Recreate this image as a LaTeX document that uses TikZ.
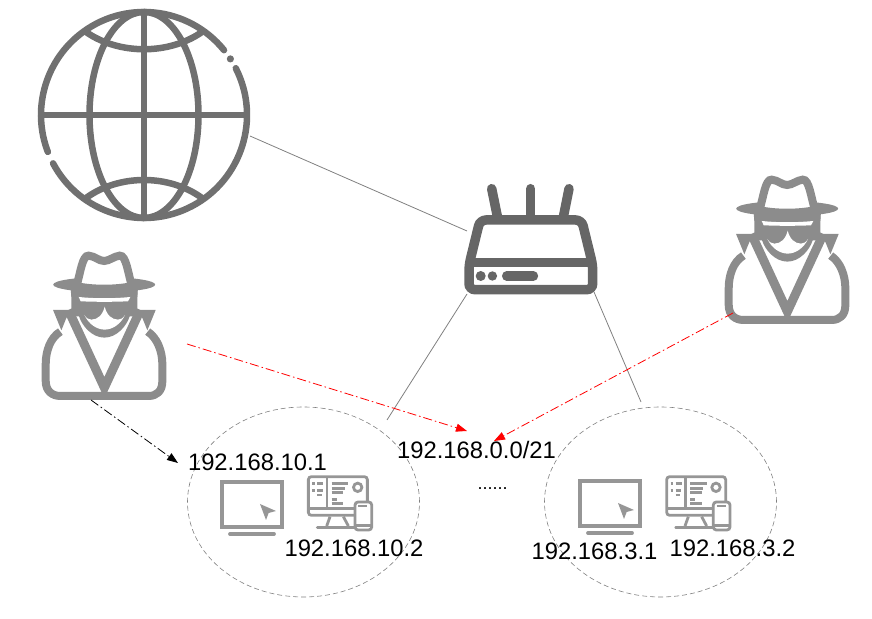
\documentclass[tikz,border=0pt]{standalone}
\usepackage{fontspec}
\setmainfont{Liberation Sans}
\usetikzlibrary{arrows.meta,shapes.geometric}
\definecolor{globegray}{HTML}{707070}
\definecolor{routergray}{HTML}{666666}
\definecolor{spygray}{HTML}{8C8C8C}
\definecolor{pcgray}{HTML}{969696}
\tikzset{
  link/.style={draw=gray,line width=0.8pt},
  attack/.style={red,line width=0.8pt,dash pattern=on 9pt off 3pt on 1.5pt off 3pt,-{Triangle[length=11pt,width=8pt]}},
  probe/.style={attack,black},
  subnet/.style={draw=gray,ellipse,dash pattern=on 5pt off 3pt,line width=0.6pt,minimum width=232pt,minimum height=190pt,inner sep=0pt},
  addr/.style={anchor=base,inner sep=0pt,font=\fontsize{23.8pt}{24pt}\selectfont},
  globe/.pic={
    \begin{scope}[globegray,line width=6.5pt]
      \draw[line cap=round] (39:103pt) arc[start angle=39,end angle=201,radius=103pt];
      \draw[line cap=round] (208:103pt) arc[start angle=208,end angle=387,radius=103pt];
      \fill (33:103pt) circle (3.6pt);
      \draw (0,103) -- (0,-103);
      \draw (-103,0) -- (103,0);
      \draw (0,0) ellipse (54.5pt and 103pt);
      \draw (-58,83) .. controls (-25,60) and (25,60) .. (58,83);
      \draw (-58,-83) .. controls (-25,-59) and (25,-59) .. (58,-83);
    \end{scope}
  },
  router/.pic={
    \begin{scope}[routergray,line width=9.5pt]
      \draw[rounded corners=6pt] (-50.7,26.7) -- (51,26.7) -- (62,-18.3) -- (62,-43) -- (-61.7,-43) -- (-61.7,-18.3) -- cycle;
      \draw (-61.7,-16) -- (62,-16);
      \draw[line cap=round] (-39,58) -- (-33.3,30);
      \draw[line cap=round] (0,58) -- (0,30);
      \draw[line cap=round] (38.3,58) -- (32.7,30);
      \fill (-50,-29.3) circle (5pt) (-38.3,-29.3) circle (4.7pt);
      \draw[line cap=round] (-24,-29.3) -- (2.7,-29.3);
    \end{scope}
  },
  spy/.pic={
    \begin{scope}[x=0.3333pt,y=-0.3333pt,shift={(-230,-250)},spygray,line width=8pt]
      % coat
      \draw[fill=white,line join=round] (100,272) .. controls (70,290) and (56,330) .. (56,370) -- (56,420) .. controls (56,450) and (75,465) .. (100,465) -- (365,465) .. controls (390,465) and (406,450) .. (406,420) -- (406,370) .. controls (406,330) and (390,290) .. (362,272);
      % collar
      \fill (78,207) -- (135,207) -- (118,231) -- (103,268) -- cycle;
      \fill (386,207) -- (329,207) -- (346,231) -- (361,268) -- cycle;
      \draw[line width=9pt,miter limit=10] (124,207) -- (232,440) -- (340,207);
      % face
      \fill (133,150) -- (133,205) -- (140,226) -- (156,226) .. controls (165,255) and (195,290) .. (232,290) .. controls (269,290) and (299,255) .. (308,226) -- (324,226) -- (331,205) -- (331,150) -- cycle;
      \fill[white] (172,222) .. controls (178,232) and (185,236) .. (193,236) .. controls (212,236) and (227,222) .. (233,197) .. controls (239,222) and (254,236) .. (273,236) .. controls (281,236) and (288,232) .. (294,222) .. controls (281,250) and (256,266) .. (233,266) .. controls (210,266) and (185,250) .. (172,222) -- cycle;
      % hat
      \fill (231.5,131) ellipse (51pt and 7.5pt);
      \draw[fill=white] (148,135) .. controls (160,100) and (165,42) .. (185,44) .. controls (205,46) and (215,60) .. (231,60) .. controls (247,60) and (260,46) .. (278,44) .. controls (298,42) and (303,100) .. (315,135) .. controls (270,146) and (192,146) .. (148,135) -- cycle;
      \fill (130,135) .. controls (180,150) and (282,150) .. (333,135) -- (331,168) -- (133,168) -- cycle;
      \fill[white] (155,168) .. controls (200,173) and (262,173) .. (310,168) -- (303,181) .. controls (260,183) and (204,183) .. (161,181) -- cycle;
    \end{scope}
  },
  screen/.pic={
    \begin{scope}[x=0.3333pt,y=-0.3333pt,shift={(-120,-120)},pcgray,line width=3.8pt]
      \draw (125,125) rectangle (305,260);
      \draw[line cap=round] (150,282) -- (282,282);
      \fill (240,192) -- (288,213) -- (266,219) -- (258,240) -- cycle;
    \end{scope}
  },
  desktop/.pic={
    \begin{scope}[x=0.3333pt,y=-0.3333pt,shift={(-380,-105)},pcgray,line width=2.8pt]
      \draw[rounded corners=3pt] (385,110) rectangle (562,226);
      \draw (385,205) -- (525,205);
      \draw (441,110) -- (441,205);
      \draw (450,230) -- (440,258) (490,230) -- (505,258);
      \draw[line cap=round] (412,262) -- (525,262);
      \draw (397,130) -- (405,130) (412,130) -- (430,130);
      \draw (397,152) -- (405,152) (412,152) -- (428,152) (412,165) -- (425,165);
      \draw (455,130) -- (505,130) (455,145) -- (495,145) (455,158) -- (490,158);
      \draw (455,178) -- (470,178) (455,190) -- (490,190);
      \draw (533,142) circle (4.2pt);
      \draw[fill=white,rounded corners=3pt] (525,186) rectangle (575,270);
      \draw (535,198) -- (562,198) (525,257) -- (575,257);
    \end{scope}
  },
}
\begin{document}
\begin{tikzpicture}[x=1pt,y=1pt]
  \useasboundingbox (0,0) rectangle (872,618);
  % icons
  \pic at (144,503) {globe};
  \pic at (530.7,371.3) {router};
  \pic at (786.7,369.7) {spy};
  \pic at (103.7,293.7) {spy};
  \pic at (220,138) {screen};
  \pic at (578,139) {screen};
  \pic at (306.7,143) {desktop};
  \pic at (665,143) {desktop};
  % subnets
  \node[subnet] (lan10) at (303.5,116) {};
  \node[subnet] (lan3) at (660.5,116) {};
  % connector ends
  \coordinate (globeport) at (250,482);
  \coordinate (routerwan) at (467,387);
  \coordinate (routerl) at (467,324);
  \coordinate (routerr) at (594,326);
  \coordinate (lan10top) at (387,198);
  \coordinate (lan3top) at (641,216);
  \coordinate (spyl) at (91,218);
  \coordinate (spylr) at (187,274);
  \coordinate (spyr) at (733,305);
  \coordinate (rangel) at (467,187);
  \coordinate (ranger) at (494,177);
  \coordinate (hostin) at (178,155);
  \draw[link] (globeport) -- (routerwan);
  \draw[link] (routerl) -- (lan10top);
  \draw[link] (routerr) -- (lan3top);
  \draw[attack] (spylr) -- (rangel);
  \draw[attack] (spyr) -- (ranger);
  \draw[probe] (spyl) -- (hostin);
  % addresses
  \node[addr] (host101) at (257.5,147) {192.168.10.1};
  \node[addr] (host102) at (354,61) {192.168.10.2};
  \node[addr] (range) at (476.5,159) {192.168.0.0/21};
  \node[addr] (host31) at (594.5,58) {192.168.3.1};
  \node[addr] (host32) at (732.5,61) {192.168.3.2};
  \node[addr,font=\fontsize{18pt}{20pt}\selectfont] (dots) at (492.5,128) {......};
\end{tikzpicture}
\end{document}
